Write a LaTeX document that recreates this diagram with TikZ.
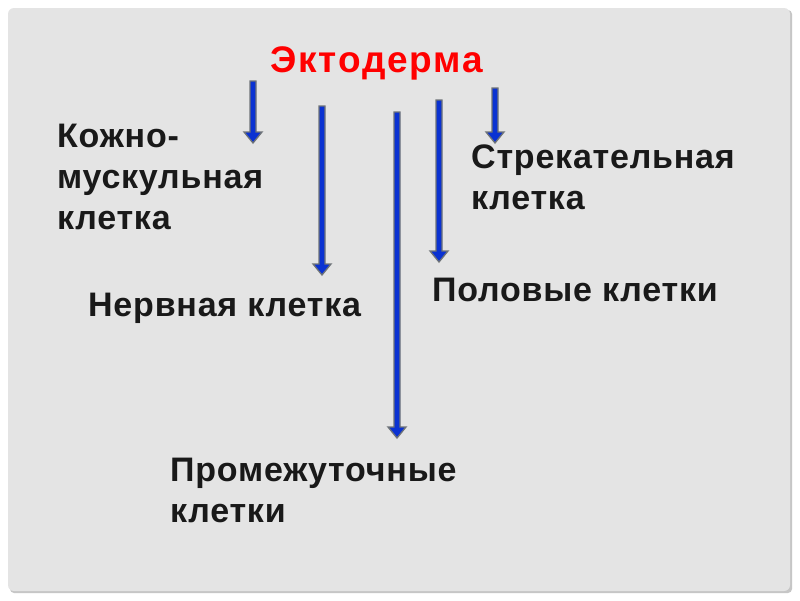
\documentclass[tikz,border=0pt]{standalone}
\usepackage{fontspec}
\setmainfont{Liberation Sans}
\newfontfamily\titlefont{Liberation Sans}[LetterSpace=5]
\newfontfamily\labelfont{Liberation Sans}[LetterSpace=2.3]
\usepackage{tikz}
\usetikzlibrary{calc}
\definecolor{SlideGray}{HTML}{E4E4E4}
\definecolor{ArrowBlue}{HTML}{0A32D2}
\definecolor{ArrowEdge}{HTML}{6E7378}
\definecolor{TitleRed}{HTML}{FF0000}

% one thick blue arrow, from a top coordinate down to a tip coordinate
\newcommand{\cellarrow}[2]{%
  \draw[ArrowEdge, fill=ArrowBlue, line width=1.3pt, line join=miter]
    ($(#1)+(-3,0)$) -- ($(#2)+(-3,-11)$) -- ($(#2)+(-9,-11)$) -- (#2)
    -- ($(#2)+(9,-11)$) -- ($(#2)+(3,-11)$) -- ($(#1)+(3,0)$) -- cycle;}

\begin{document}
\begin{tikzpicture}[x=1pt, y=-1pt,
    every node/.style={inner sep=0pt, anchor=north west, align=left,
      font=\labelfont\bfseries\fontsize{34}{41}\selectfont, text=black!90}]
  % slide background
  \useasboundingbox (0,0) rectangle (800,600);
  \fill[white] (0,0) rectangle (800,600);
  \fill[gray!45, rounded corners=4pt] (10,10) rectangle (792,593);
  \fill[SlideGray, rounded corners=6pt] (8,8) rectangle (790,591);

  % title
  \node[anchor=north west, text=TitleRed,
    font=\titlefont\bfseries\fontsize{37}{41}\selectfont] (ecto) at (270,46) {Эктодерма};

  % cell types
  \node (skin) at (57,124) {Кожно-\\мускульная\\клетка};
  \node (nerve) at (88,293) {Нервная клетка};
  \node (inter) at (170,458) {Промежуточные\\клетки};
  \node (sting) at (471,145) {Стрекательная\\клетка};
  \node (germ) at (432,278) {Половые клетки};

  % arrow ends
  \coordinate (a1) at (253,81);  \coordinate (t1) at (253,143);
  \coordinate (a2) at (322,106); \coordinate (t2) at (322,275);
  \coordinate (a3) at (397,112); \coordinate (t3) at (397,438);
  \coordinate (a4) at (439,100); \coordinate (t4) at (439,262);
  \coordinate (a5) at (495,88);  \coordinate (t5) at (495,143);

  \foreach \i in {1,...,5} {
    \cellarrow{a\i}{t\i}
  }
\end{tikzpicture}
\end{document}
